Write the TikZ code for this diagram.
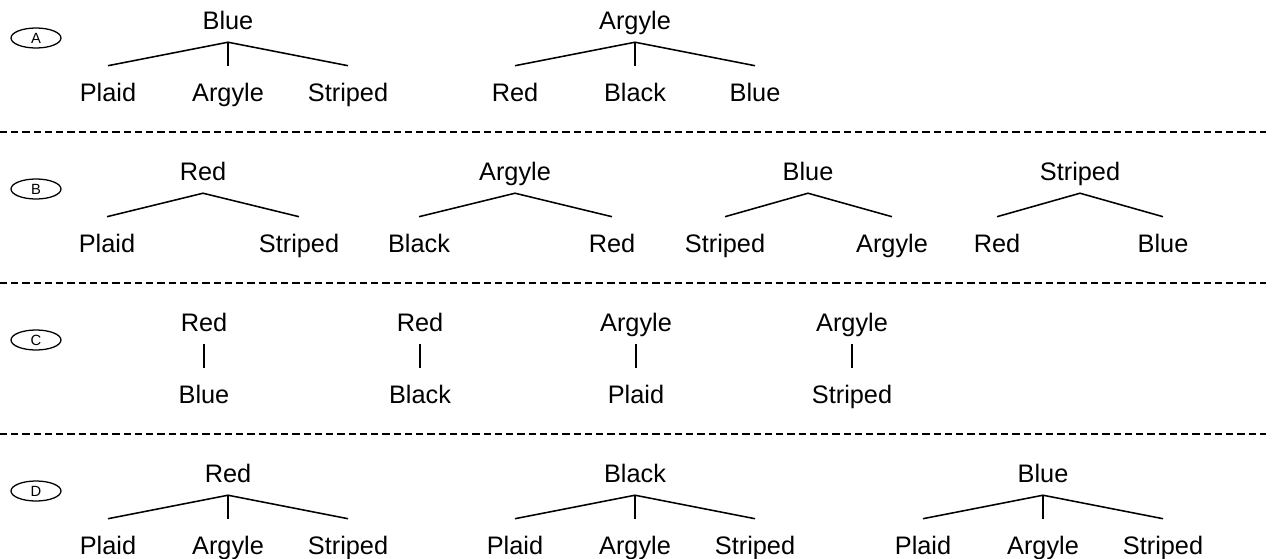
\documentclass[tikz,border=0pt]{standalone}
\usepackage{fontspec}
\setmainfont{Liberation Sans}
\usepackage{tikz}
\usetikzlibrary{positioning}
\usetikzlibrary{shapes.geometric}

\begin{document}
\begin{tikzpicture}[x=0.025cm, y=-0.025cm,
	par/.style={anchor=base, inner sep=0pt, text depth=9.2pt, font=\fontsize{18}{20}\selectfont},
	kid/.style={anchor=base, inner sep=0pt, text height=24.9pt, font=\fontsize{18}{20}\selectfont},
	link/.style={color=black, line width=1.1pt},
	tag/.style={draw, ellipse, line width=0.9pt, minimum width=1.25cm, minimum height=0.5cm, inner sep=0pt, font=\fontsize{10.5}{12}\selectfont},
	sep/.style={color=black, line width=0.8pt, dash pattern=on 5pt off 3pt}]
	\useasboundingbox (0,0) rectangle (1283,559);
	%\draw[thick] (0,0) rectangle (1283,559);
	\draw[sep] (0,132) -- (1266,132);
	\draw[sep] (0,283) -- (1266,283);
	\draw[sep] (0,434) -- (1266,434);
	\foreach \l/\y in {A/38, B/189, C/340, D/491} {
		\node[tag] (tag_\l) at (36,\y) {\l};
	}
	% row A
	\node[par] (a1) at (228,29) {Blue};
	\foreach \x/\t [count=\i] in {108/Plaid, 228/Argyle, 348/Striped} {
		\node[kid] (a1_\i) at (\x,101) {\t};
		\draw[link] (a1.south) -- (a1_\i.north);
	}
	\node[par] (a2) at (635,29) {Argyle};
	\foreach \x/\t [count=\i] in {515/Red, 635/Black, 755/Blue} {
		\node[kid] (a2_\i) at (\x,101) {\t};
		\draw[link] (a2.south) -- (a2_\i.north);
	}
	% row B
	\foreach \p/\r/\lx/\lt/\rx/\rt [count=\j] in {203/Red/107/Plaid/299/Striped, 515/Argyle/419/Black/612/Red, 808/Blue/725/Striped/892/Argyle, 1080/Striped/997/Red/1163/Blue} {
		\node[par] (b\j) at (\p,180) {\r};
		\node[kid] (b\j_1) at (\lx,252) {\lt};
		\node[kid] (b\j_2) at (\rx,252) {\rt};
		\draw[link] (b\j_1.north) -- (b\j.south) -- (b\j_2.north);
	}
	% row C
	\foreach \p/\r/\k [count=\j] in {204/Red/Blue, 420/Red/Black, 636/Argyle/Plaid, 852/Argyle/Striped} {
		\node[par] (c\j) at (\p,331) {\r};
		\node[kid] (c\j_1) at (\p,403) {\k};
		\draw[link] (c\j.south) -- (c\j_1.north);
	}
	% row D
	\foreach \p/\r [count=\j] in {228/Red, 635/Black, 1043/Blue} {
		\node[par] (d\j) at (\p,482) {\r};
		\foreach \dx/\t [count=\i] in {-120/Plaid, 0/Argyle, 120/Striped} {
			\node[kid] (d\j_\i) at (\p+\dx,554) {\t};
			\draw[link] (d\j.south) -- (d\j_\i.north);
		}
	}
\end{tikzpicture}
\end{document}
